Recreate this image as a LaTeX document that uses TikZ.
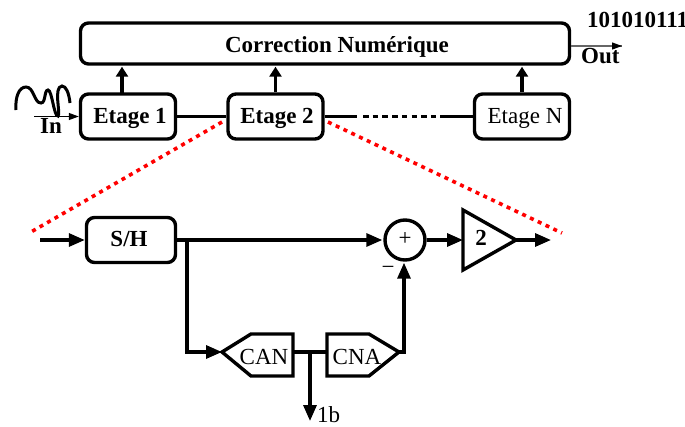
\documentclass[tikz,border=0pt]{standalone}
\usepackage{fontspec}
\setmainfont{Liberation Serif}
\usetikzlibrary{arrows.meta,calc}
\definecolor{redline}{RGB}{255,0,0}
\tikzset{
  x=1pt,y=-1pt,
  wire/.style={line width=3.2pt,draw=black},
  arr/.style={wire,-{Triangle[length=16pt,width=13pt]},shorten >=1pt},
  uparr/.style={wire,-{Triangle[length=10pt,width=12pt]},shorten >=1pt},
  thinarr/.style={line width=1.2pt,-{Triangle[length=10pt,width=7pt]}},
  blockbox/.style={draw=black,line width=3.4pt,rounded corners=8pt,minimum height=45pt,inner sep=0pt,anchor=center},
  poly/.style={draw=black,line width=3.4pt,miter limit=10},
  redzoom/.style={draw=redline,line width=3.6pt,dash pattern=on 4pt off 4.6pt},
  lab/.style={inner sep=0pt,font=\fontsize{23pt}{24pt}\selectfont},
  blab/.style={inner sep=0pt,font=\fontsize{23pt}{24pt}\selectfont\bfseries},
}
\begin{document}
\begin{tikzpicture}
\useasboundingbox (0,0) rectangle (685,426);
% top row
\node[blockbox,minimum width=489pt,minimum height=41pt] (cor) at (325,43.5) {};
\node[blab] (cortxt) at (337,46.5) {Correction Numérique};
\node[blockbox,minimum width=95pt] (e1) at (128,116.5) {};
\node[blab] at (130,118) (e1t) {Etage 1};
\node[blockbox,minimum width=95pt] (e2) at (275.5,116.5) {};
\node[blab] at (277,118) (e2t) {Etage 2};
\node[blockbox,minimum width=95pt] (en) at (522,116.5) {};
\node[lab] at (525,118) (ent) {Etage N};
\coordinate (u1) at (122,94);
\draw[uparr] (u1) -- (u1 |- cor.south);
\draw[uparr] (e2.north) -- (e2.north |- cor.south);
\draw[uparr] (en.north) -- (en.north |- cor.south);
\draw[wire] (e1.east) -- (e2.west);
\coordinate (d1) at (357,116.5);
\coordinate (d2) at (440,116.5);
\draw[wire] (e2.east) -- (d1);
\draw[wire,dash pattern=on 5.5pt off 4.2pt] ($(d1)+(6,0)$) -- ($(d2)+(-3,0)$);
\draw[wire] (d2) -- (en.west);
% out
\coordinate (outend) at (622,46);
\draw[line width=1.2pt,draw=black!60] (cor.east |- outend) -- (outend);
\draw[thinarr] (612,46) -- (outend);
\node[blab,anchor=west] (out) at (581,56) {Out};
\node[blab,anchor=west] (bits) at (587,20) {101010111};
% in
\coordinate (instart) at (34,116.5);
\draw[thinarr] (instart) -- (e1.west);
\node[blab,anchor=west] (in) at (40,126) {In};
\draw[line width=3pt,line cap=butt] (16,110) .. controls (15,97) and (19,87) .. (26,87)
  .. controls (34,87) and (34,103) .. (41,103)
  .. controls (46,103) and (44,90) .. (48,90)
  .. controls (52,90) and (54,117) .. (58,116)
  .. controls (61,114) and (53,87) .. (62,86)
  .. controls (66,86) and (69,93) .. (70,103);
% zoom lines
\coordinate (zl) at (31,232);
\coordinate (zr) at (562,233);
\draw[redzoom] (222,122) -- (zl);
\draw[redzoom] (328,122) -- (zr);
% bottom row
\node[blockbox,minimum width=89pt] (sh) at (131,240) {};
\node[blab] (sht) at (129,239) {S/H};
\coordinate (sin) at (40,240);
\draw[arr,shorten >=0pt] (sin) -- (sh.west);
\node[draw=black,line width=3.4pt,circle,minimum size=40pt,inner sep=0pt] (sum) at (405,240) {};
\node[lab] (plus) at (405,239) {+};
\node[lab] (minus) at (388,270) {\char"2212};
\coordinate (tria) at (463,210);
\coordinate (trib) at (463,270);
\coordinate (tric) at (516,240);
\coordinate (trii) at (463,240);
\draw[poly] (tria) -- (tric) -- (trib) -- cycle;
\node[blab] (two) at (481,238) {2};
\draw[arr] (sh.east) -- (sum.west);
\draw[arr,shorten >=0pt] (sum.east) -- (trii);
\coordinate (oend) at (551,240);
\draw[arr,shorten >=0pt] (tric) -- (oend);
% CAN / CNA
\coordinate (cantip) at (222,352);
\draw[poly] (cantip) -- (251,334) -- (293,334) -- (293,376) -- (251,376) -- cycle;
\node[lab] (can) at (264,357) {CAN};
\coordinate (cnatip) at (399,352);
\draw[poly] (327,334) -- (369,334) -- (cnatip) -- (369,376) -- (327,376) -- cycle;
\node[lab] (cna) at (357,357) {CNA};
\coordinate (branch) at (187,240);
\coordinate (bcorner) at (187,352);
\draw[wire] (branch) -- (bcorner);
\draw[arr,shorten >=0pt] ($(bcorner)+(-1.6,0)$) -- (cantip);
\coordinate (canr) at (293,352);
\coordinate (cnal) at (327,352);
\draw[wire] (canr) -- (cnal);
\coordinate (bit) at (310,421);
\coordinate (bitt) at (310,352);
\draw[arr,shorten >=0pt] (bitt) -- (bit);
\node[lab,anchor=base west] (oneb) at (317,422) {1b};
\coordinate (ccorner) at (404,352);
\draw[arr] (cnatip) -- (ccorner) -- (ccorner |- sum.south);
\end{tikzpicture}
\end{document}
